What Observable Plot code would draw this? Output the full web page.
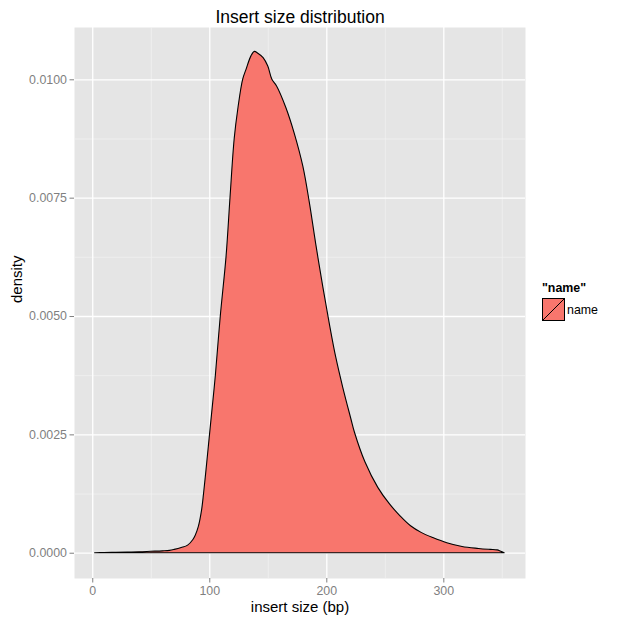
<!DOCTYPE html>
<html><head><meta charset="utf-8">
<script src="https://cdn.jsdelivr.net/npm/d3@7"></script>
<script src="https://cdn.jsdelivr.net/npm/@observablehq/plot@0.6"></script>
<style>
body{margin:0;background:#fff;font-family:"Liberation Sans",Arial,sans-serif}
#wrap{position:relative;width:624px;height:624px}
#legend{position:absolute;left:542px;top:281px;font-size:12.4px;color:#000}
#legend .lt{font-weight:bold;line-height:14px}
#legend .row{display:flex;align-items:center;margin-top:3px}
#legend .key{width:23px;height:23px;display:block}
#legend .lab{margin-left:2px}
</style></head><body><div id="wrap"></div>
<script>
const insertSize = [2, 10, 20, 30, 40, 50, 60, 66, 70, 76, 81.5, 86, 88, 90.6, 93.4, 95.1, 97.2, 99.2, 101, 105.2, 109.4, 114.3, 117.7, 121.3, 124.5, 128.5, 131.4, 135.5, 138.5, 141.5, 146, 150, 153.5, 157.5, 165.5, 172.5, 180, 185.5, 191, 197, 202.5, 208, 214, 221, 224, 233, 244, 254, 263, 272, 281, 291, 303, 316, 330, 340, 346, 349, 352];
const density = [0.00000, 0.000005, 0.00001, 0.000015, 0.00002, 0.00003, 0.00004, 0.00005, 0.00007, 0.00011, 0.00016, 0.00028, 0.00037, 0.00055, 0.00090, 0.00125, 0.00175, 0.00225, 0.00270, 0.00375, 0.00500, 0.00625, 0.00750, 0.00875, 0.00940, 0.01000, 0.01021, 0.01049, 0.01059, 0.01055, 0.01046, 0.01028, 0.01000, 0.00986, 0.00940, 0.00887, 0.00816, 0.00740, 0.00652, 0.00562, 0.00485, 0.00414, 0.00350, 0.00283, 0.00255, 0.00192, 0.00138, 0.00103, 0.00078, 0.00057, 0.00043, 0.00032, 0.00021, 0.00013, 0.00009, 0.00007, 0.00006, 0.00003, 0.00000];
const xTicks = [0, 100, 200, 300];
const xMinor = [50, 150, 250, 350];
const yTicks = [0, 0.0025, 0.005, 0.0075, 0.01];
const yMinor = [0.00125, 0.00375, 0.00625, 0.00875];
const chartTitle = "Insert size distribution";
const xLabel = "insert size (bp)";
const yLabel = "density";
const legendTitle = '"name"';
const seriesName = "name";
const fillColor = "#F8766D";

const data = insertSize.map((x, i) => ({x, y: density[i]}));
const font = "Liberation Sans, Arial, sans-serif";

const plot = Plot.plot({
  width: 624, height: 624,
  marginLeft: 74, marginRight: 99, marginTop: 27, marginBottom: 46,
  style: {fontFamily: font, background: "white", overflow: "visible"},
  x: {domain: [-15.6, 369.8]},
  y: {domain: [-0.000534, 0.011105]},
  marks: [
    Plot.frame({fill: "#E5E5E5", stroke: null}),
    Plot.gridX(xMinor, {stroke: "#F2F2F2", strokeOpacity: 1, strokeWidth: 0.7}),
    Plot.gridY(yMinor, {stroke: "#F2F2F2", strokeOpacity: 1, strokeWidth: 0.7}),
    Plot.gridX(xTicks, {stroke: "white", strokeOpacity: 1, strokeWidth: 1.3}),
    Plot.gridY(yTicks, {stroke: "white", strokeOpacity: 1, strokeWidth: 1.3}),
    Plot.areaY(data, {x: "x", y: "y", fill: fillColor, stroke: "black", strokeWidth: 1.1, curve: "catmull-rom"}),
    Plot.axisX(xTicks, {color: "#7F7F7F", tickSize: 4.5, tickPadding: 3, fontSize: 12.4, label: null}),
    Plot.axisY(yTicks, {color: "#7F7F7F", tickSize: 4.5, tickPadding: 3, fontSize: 12.4, label: null, tickFormat: d3.format(".4f")}),
    Plot.text([chartTitle], {text: d => d, frameAnchor: "top", lineAnchor: "middle", dy: -10, fontSize: 17.5, fill: "black"}),
    Plot.text([xLabel], {text: d => d, frameAnchor: "bottom", lineAnchor: "middle", dy: 29, fontSize: 15, fill: "black"}),
    Plot.text([yLabel], {text: d => d, frameAnchor: "left", lineAnchor: "middle", dx: -57, rotate: -90, fontSize: 15, fill: "black"})
  ]
});

const wrap = document.getElementById("wrap");
wrap.appendChild(plot);

const legend = document.createElement("div");
legend.id = "legend";
legend.innerHTML = `<div class="lt"></div><div class="row"><svg class="key" viewBox="0 0 23 23"><rect x="0.5" y="0.5" width="22" height="22" fill="${fillColor}" stroke="black" stroke-width="1"/><line x1="1" y1="22" x2="22" y2="1" stroke="black" stroke-width="1"/></svg><span class="lab"></span></div>`;
legend.querySelector(".lt").textContent = legendTitle;
legend.querySelector(".lab").textContent = seriesName;
wrap.appendChild(legend);
</script>
</body></html>
